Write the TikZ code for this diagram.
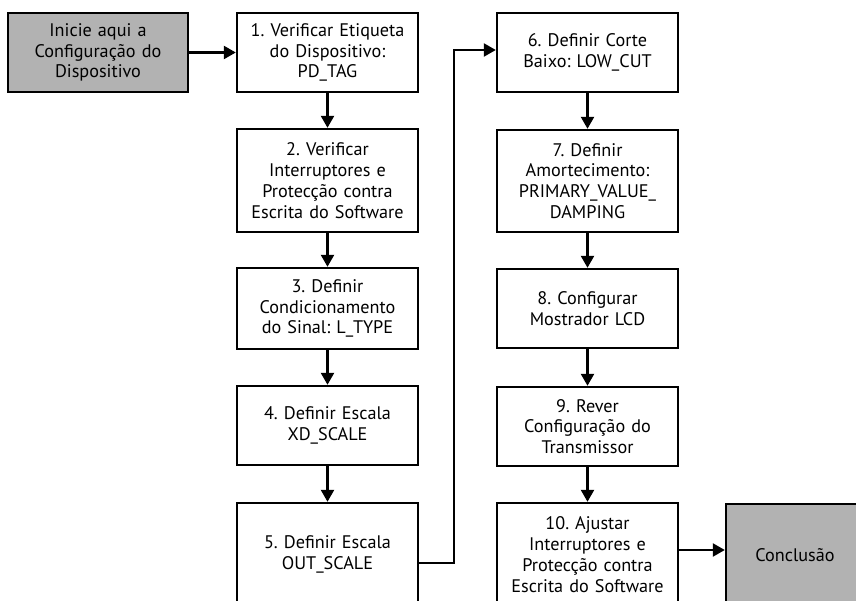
\documentclass[tikz,border=0pt]{standalone}
\usepackage{fontspec}
\setmainfont{PT Sans}
\usetikzlibrary{arrows.meta}
\frenchspacing
\begin{document}
\begin{tikzpicture}[x=1pt,y=1pt,
  stepbox/.style={draw, line width=2.4pt, minimum width=181pt, align=center,
    font=\fontsize{18.2}{20.8}\selectfont, inner sep=0pt, text width=178pt},
  graybox/.style={stepbox, fill=black!30},
  arr/.style={line width=2.4pt, -{Triangle[length=12pt,width=13pt]}}]
\useasboundingbox (0,0) rectangle (856,-601);
\clip (0,0) rectangle (856,-601);
% column 1
\node[graybox, minimum width=180pt, minimum height=79pt] (s) at (98,-52.5) {Inicie aqui a\\Configuração do\\Dispositivo};
% column 2
\node[stepbox, minimum height=79pt] (b1) at (327.5,-52.5) {1. Verificar Etiqueta\\do Dispositivo:\\PD\_TAG};
\node[stepbox, minimum height=103pt] (b2) at (327.5,-180.5) {2. Verificar\\Interruptores e\\Protecção contra\\Escrita do Software};
\node[stepbox, minimum height=81pt] (b3) at (327.5,-308.5) {3. Definir\\Condicionamento\\do Sinal: L\_TYPE};
\node[stepbox, minimum height=79pt] (b4) at (327.5,-425.5) {4. Definir Escala\\XD\_SCALE};
\node[stepbox, minimum height=103pt] (b5) at (327.5,-554.5) {5. Definir Escala\\OUT\_SCALE};
% column 3
\node[stepbox, minimum height=79pt] (b6) at (587.5,-52.5) {6. Definir Corte\\Baixo: LOW\_CUT};
\node[stepbox, minimum height=102pt] (b7) at (587.5,-181) {7. Definir\\Amortecimento:\\PRIMARY\_VALUE\_\\DAMPING};
\node[stepbox, minimum height=79pt] (b8) at (587.5,-308.5) {8. Configurar\\Mostrador LCD};
\node[stepbox, minimum height=79pt] (b9) at (587.5,-426.5) {9. Rever\\Configuração do\\Transmissor};
\node[stepbox, minimum height=103pt] (b10) at (587.5,-554.5) {10. Ajustar\\Interruptores e\\Protecção contra\\Escrita do Software};
\node[graybox, minimum height=103pt, minimum width=150pt, text width=140pt] (c) at (801,-555.5) {\hspace*{-12pt}Conclusão};
% connectors
\draw[arr] (s) -- (b1);
\draw[arr] (b1) -- (b2);
\draw[arr] (b2) -- (b3);
\draw[arr] (b3) -- (b4);
\draw[arr] (b4) -- (b5);
\draw[arr] ([yshift=-8.5pt]b5.east) -- ++(35pt,0) |- ([yshift=2.5pt]b6.west);
\draw[arr] (b6) -- (b7);
\draw[arr] (b7) -- (b8);
\draw[arr] (b8) -- (b9);
\draw[arr] (b9) -- (b10);
\draw[arr] ([yshift=4.5pt]b10.east) -- ([yshift=4.5pt]b10.east -| c.west);
\end{tikzpicture}
\end{document}
